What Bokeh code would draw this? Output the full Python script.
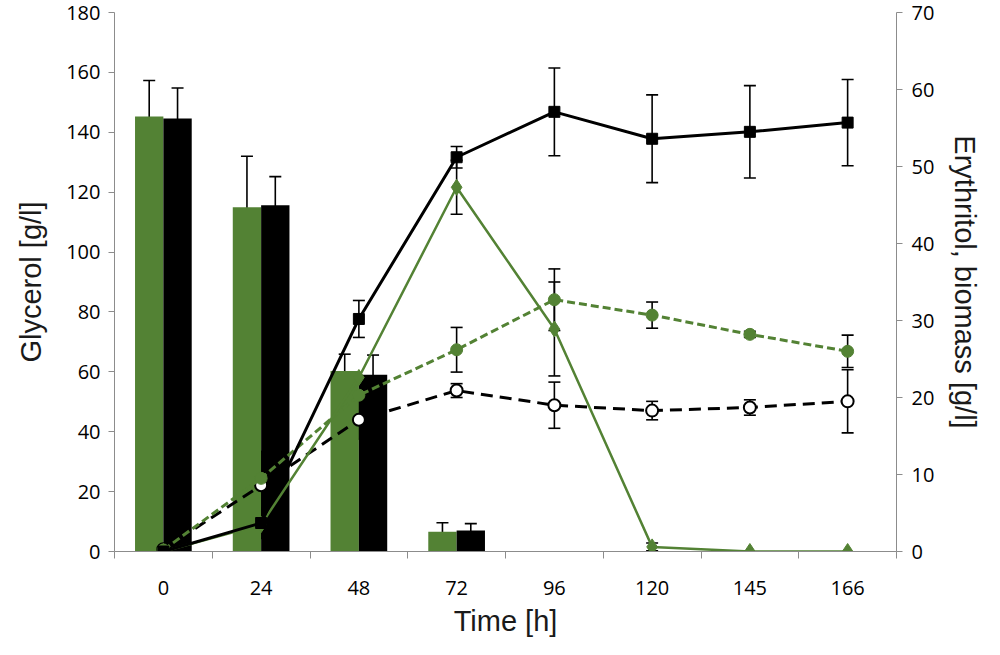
from bokeh.plotting import figure
from bokeh.models import (Range1d, LinearAxis, FixedTicker, Whisker, TeeHead,
                          ColumnDataSource)
from bokeh.embed import file_html
from bokeh.resources import INLINE

# ---------------- data ----------------
times = ["0", "24", "48", "72", "96", "120", "145", "166"]

# Glycerol (left axis), measured 0-72 h
glycerol_times = ["0", "24", "48", "72"]
glycerol_green = [145.3, 115.0, 60.3, 6.6]
glycerol_green_err = [12.0, 17.0, 5.6, 3.0]
glycerol_black = [144.6, 115.6, 59.0, 7.0]
glycerol_black_err = [10.2, 9.6, 6.6, 2.3]

# Erythritol / biomass (right axis)
black_solid = [0.0, 3.7, 30.2, 51.2, 57.1, 53.6, 54.5, 55.7]
black_solid_err = [0.0, 2.0, 2.4, 1.4, 5.7, 5.7, 6.0, 5.6]
green_solid = [0.0, 3.5, 22.6, 47.3, 28.9, 0.6, 0.0, 0.0]
green_solid_err = [0.0, 0.0, 0.0, 3.5, 6.1, 0.5, 0.0, 0.0]
green_dashed = [0.2, 9.5, 20.3, 26.2, 32.7, 30.7, 28.2, 26.0]
green_dashed_err = [0.0, 0.0, 0.0, 2.9, 4.0, 1.7, 0.4, 2.1]
black_dashed = [0.3, 8.6, 17.1, 20.9, 19.0, 18.3, 18.7, 19.5]
black_dashed_err = [0.0, 4.4, 2.5, 0.9, 3.0, 1.2, 1.0, 4.1]

left_ticks = list(range(0, 181, 20))
right_ticks = list(range(0, 71, 10))

GREEN = "#538234"
AXIS_GRAY = "#8c8c8c"
TICK_FONT = "Open Sans"
TITLE_FONT = "Liberation Sans"

# ---------------- helpers ----------------
pos = {t: i + 0.5 for i, t in enumerate(times)}
xs = [pos[t] for t in times]
bar_w = 0.29

p = figure(width=984, height=639, output_backend="svg", toolbar_location=None,
           x_range=Range1d(0, len(times)), y_range=Range1d(0, 180),
           min_border_left=114, min_border_right=86, min_border_top=12,
           min_border_bottom=88, outline_line_color=None)
p.extra_y_ranges = {"right": Range1d(0, 70)}
p.grid.visible = False
p.background_fill_color = "white"
p.border_fill_color = "white"

# x axis: labels at centers, ticks at boundaries (minor ticks)
xax = p.xaxis[0]
xax.ticker = FixedTicker(ticks=xs, minor_ticks=list(range(0, len(times) + 1)))
xax.major_label_overrides = {x: t for x, t in zip(xs, times)}
xax.major_tick_line_color = None
xax.major_tick_out = 0
xax.major_tick_in = 0
xax.minor_tick_out = 7
xax.minor_tick_in = 0
xax.minor_tick_line_color = AXIS_GRAY
xax.axis_line_color = AXIS_GRAY
xax.axis_label = "Time [h]"
xax.major_label_standoff = 22
xax.axis_label_standoff = 7

# left axis
yax = p.yaxis[0]
yax.ticker = FixedTicker(ticks=left_ticks)
yax.minor_tick_line_color = None
yax.major_tick_out = 6
yax.major_tick_in = 0
yax.major_tick_line_color = AXIS_GRAY
yax.axis_line_color = AXIS_GRAY
yax.axis_label = "Glycerol [g/l]"
yax.major_label_standoff = 8
yax.axis_label_standoff = 16

# right axis
rax = LinearAxis(y_range_name="right", ticker=FixedTicker(ticks=right_ticks))
rax.minor_tick_line_color = None
rax.major_tick_out = 6
rax.major_tick_in = 0
rax.major_tick_line_color = AXIS_GRAY
rax.axis_line_color = AXIS_GRAY
rax.axis_label = "Erythritol, biomass [g/l]"
rax.major_label_standoff = 9
rax.axis_label_standoff = 12
p.add_layout(rax, "right")

for ax in (xax, yax, rax):
    ax.major_label_text_font = TICK_FONT
    ax.major_label_text_font_size = "20px"
    ax.major_label_text_color = "black"
    ax.axis_label_text_font = TITLE_FONT
    ax.axis_label_text_font_size = "29px"
    ax.axis_label_text_font_style = "normal"
    ax.axis_label_text_color = "#1a1a1a"

# ---------------- bars (left axis) ----------------
gx = [pos[t] - bar_w / 2 for t in glycerol_times]
bx = [pos[t] + bar_w / 2 for t in glycerol_times]
p.vbar(x=gx, top=glycerol_green, width=bar_w, fill_color=GREEN, line_color=None)
p.vbar(x=bx, top=glycerol_black, width=bar_w, fill_color="black", line_color=None)


def add_whiskers(xvals, yvals, errs, y_range_name="default"):
    rows = [(x, y, e) for x, y, e in zip(xvals, yvals, errs) if e > 0]
    src = ColumnDataSource(dict(
        x=[r[0] for r in rows],
        upper=[r[1] + r[2] for r in rows],
        lower=[r[1] - r[2] for r in rows]))
    w = Whisker(source=src, base="x", upper="upper", lower="lower",
                line_color="black", line_width=1.6,
                upper_head=TeeHead(size=12, line_color="black", line_width=1.6),
                lower_head=TeeHead(size=12, line_color="black", line_width=1.6))
    if y_range_name != "default":
        w.y_range_name = y_range_name
    p.add_layout(w)


add_whiskers(gx, glycerol_green, glycerol_green_err)
add_whiskers(bx, glycerol_black, glycerol_black_err)

# ---------------- lines (right axis) ----------------
# black dashed, open circles
p.line(xs, black_dashed, y_range_name="right", line_color="black",
       line_width=3, line_dash="12 7")
add_whiskers(xs, black_dashed, black_dashed_err, "right")
p.scatter(xs, black_dashed, y_range_name="right", marker="circle", size=12,
          fill_color="white", line_color="black", line_width=2)

# green dashed, filled circles
p.line(xs, green_dashed, y_range_name="right", line_color=GREEN,
       line_width=3, line_dash="8 4")
add_whiskers(xs, green_dashed, green_dashed_err, "right")
p.scatter(xs, green_dashed, y_range_name="right", marker="circle", size=12,
          fill_color=GREEN, line_color=GREEN)

# green solid, diamonds
p.line(xs, green_solid, y_range_name="right", line_color=GREEN, line_width=2.5)
add_whiskers(xs, green_solid, green_solid_err, "right")
p.scatter(xs, green_solid, y_range_name="right", marker="diamond", size=16,
          fill_color=GREEN, line_color=GREEN)

# black solid, squares
p.line(xs, black_solid, y_range_name="right", line_color="black", line_width=3)
add_whiskers(xs, black_solid, black_solid_err, "right")
p.scatter(xs, black_solid, y_range_name="right", marker="square", size=11,
          fill_color="black", line_color="black")

open("out.html", "w").write(file_html(p, INLINE))
